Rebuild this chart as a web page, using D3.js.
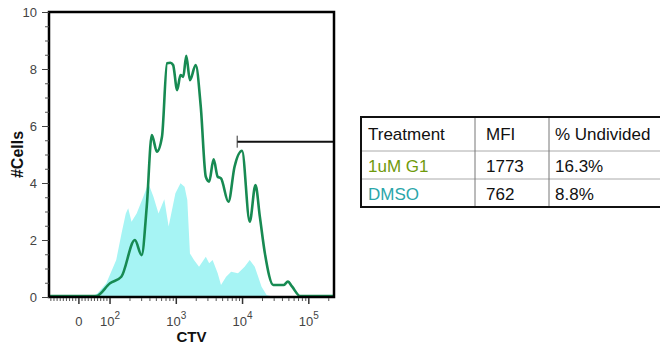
<!DOCTYPE html>
<html>
<head>
<meta charset="utf-8">
<script src="https://cdn.jsdelivr.net/npm/d3@7"></script>
<style>
  body { margin: 0; background: #fff; }
  svg { display: block; font-family: "Liberation Sans", Arial, sans-serif; }
</style>
</head>
<body>
<svg id="chart" width="660" height="345"></svg>
<script>
// --------------------------------
// data
// --------------------------------

// 1uM G1 (green line)
var g1Ctv   = [-96, 55, 100, 148, 237, 300, 358, 427, 510, 608, 725, 813, 895, 1030, 1157, 1273, 1413, 1607, 1963, 2340,
               2790, 3135, 3656, 4215, 4730, 6120, 7570, 9820, 12830, 15670, 18240, 21740, 29200, 41560, 48330, 55700, 74600, 240000];
var g1Cells = [0.03, 0.03, 0.48, 0.71, 2.0, 1.47, 3.17, 5.68, 5.1, 5.62, 8.2, 8.22, 8.14, 7.26, 7.79, 7.72, 8.46, 7.61, 8.14, 6.68,
               4.22, 4.05, 4.83, 4.22, 4.16, 3.34, 4.57, 5.13, 2.64, 3.93, 2.82, 1.53, 0.42, 0.42, 0.54, 0.37, 0.03, 0.03];

// DMSO (cyan filled)
var dmsoCtv   = [-96, 40, 60, 88, 124, 149, 173, 188, 211, 252, 318, 379, 452, 539, 659, 766, 970, 1157, 1333, 1466,
                 1607, 1849, 2205, 2790, 3135, 3533, 4215, 4730, 5650, 6730, 8530, 10750, 12830, 15280, 17220, 19360, 23070, 30000, 240000];
var dmsoCells = [0, 0, 0.13, 0.48, 1.30, 2.23, 2.93, 3.11, 2.64, 2.93, 3.52, 3.99, 3.52, 2.93, 3.43, 2.47, 3.64, 3.99, 3.87, 3.40,
                 1.53, 1.30, 1.06, 1.41, 1.18, 1.30, 0.83, 0.42, 0.71, 0.89, 0.83, 1.06, 1.30, 1.06, 0.71, 0.36, 0.07, 0, 0];

// gate "% undivided"
var gateRange = [8300, 240000];
var gateLevel = 5.45;

// axes
var xMin = -96, xMax = 240000;
var xMajor = [0, 100, 1000, 10000, 100000];
var yMajor = [0, 2, 4, 6, 8, 10];
var yMinor = [0.5, 1, 1.5, 2.5, 3, 3.5, 4.5, 5, 5.5, 6.5, 7, 7.5, 8.5, 9, 9.5];

// table
var tableHeader = ["Treatment", "MFI", "% Undivided"];
var treatments  = ["1uM G1", "DMSO"];
var mfi         = [1773, 762];
var undivided   = [16.3, 8.8];
var rowColors   = ["#6f9a0c", "#2aa6aa"];

// --------------------------------
// scales
// --------------------------------

var svg = d3.select("#chart");
var pLeft = 49, pRight = 334, pTop = 12, pBottom = 297;

// biexponential-like display: linear below 100, log above
var nLinSlope = 0.0047;
function biex(v){ return v >= 100 ? Math.log10(v) : 2 - (100 - v) * nLinSlope; }

var x = d3.scaleLinear().domain([biex(xMin), biex(xMax)]).range([pLeft, pRight]);
var y = d3.scaleLinear().domain([0, 10]).range([pBottom, pTop]);
var xs = function(v){ return x(biex(v)); };

svg.append("clipPath").attr("id", "plotClip")
  .append("rect").attr("x", pLeft).attr("y", pTop).attr("width", pRight - pLeft).attr("height", pBottom - pTop + 1);

var plot = svg.append("g").attr("clip-path", "url(#plotClip)");

// --------------------------------
// histograms
// --------------------------------

var dmso = dmsoCtv.map(function(v, i){ return [v, dmsoCells[i]]; });
var g1 = g1Ctv.map(function(v, i){ return [v, g1Cells[i]]; });

plot.append("path")
  .attr("d", d3.area().x(function(d){ return xs(d[0]); }).y0(y(0)).y1(function(d){ return y(d[1]); })(dmso))
  .attr("fill", "#a6f4f4");

plot.append("path")
  .attr("d", d3.line().curve(d3.curveMonotoneX).x(function(d){ return xs(d[0]); }).y(function(d){ return y(d[1]); })(g1))
  .attr("fill", "none")
  .attr("stroke", "#178a52")
  .attr("stroke-width", 2.6)
  .attr("stroke-linejoin", "round");

// gate
var gy = y(gateLevel);
svg.append("line")
  .attr("x1", xs(gateRange[0])).attr("x2", xs(gateRange[1]))
  .attr("y1", gy).attr("y2", gy)
  .attr("stroke", "#111").attr("stroke-width", 2);
gateRange.forEach(function(v){
  svg.append("line")
    .attr("x1", xs(v)).attr("x2", xs(v))
    .attr("y1", gy - 6).attr("y2", gy + 6)
    .attr("stroke", "#333").attr("stroke-width", 1);
});

// frame
svg.append("rect")
  .attr("x", pLeft).attr("y", pTop).attr("width", pRight - pLeft).attr("height", pBottom - pTop)
  .attr("fill", "none").attr("stroke", "#000").attr("stroke-width", 2.5);

// --------------------------------
// y axis
// --------------------------------

var yAxis = svg.append("g").attr("transform", "translate(" + pLeft + ",0)")
  .call(d3.axisLeft(y).tickValues(yMajor).tickSize(7).tickPadding(5).tickFormat(d3.format("d")));
yAxis.select(".domain").remove();
yAxis.selectAll("text").attr("font-size", 13).attr("fill", "#444").attr("font-family", "Liberation Sans, Arial, sans-serif");
yAxis.selectAll("line").attr("stroke", "#444");

var yAxisMinor = svg.append("g").attr("transform", "translate(" + pLeft + ",0)")
  .call(d3.axisLeft(y).tickValues(yMinor).tickSize(4).tickFormat(""));
yAxisMinor.select(".domain").remove();
yAxisMinor.selectAll("line").attr("stroke", "#555");

// --------------------------------
// x axis (drawn by hand, biex scale)
// --------------------------------

var xMinor = [];
for (var k = 1; k <= 9; k++){ xMinor.push(-10 * k); xMinor.push(10 * k); }
for (var d = 2; d <= 5; d++){
  for (var m = 2; m <= 9; m++){
    if (m * Math.pow(10, d) <= xMax) xMinor.push(m * Math.pow(10, d));
  }
}
xMinor = xMinor.filter(function(v){ return v >= xMin; });

var xAxis = svg.append("g");
xAxis.selectAll("line.minor").data(xMinor).enter().append("line")
  .attr("x1", xs).attr("x2", xs)
  .attr("y1", pBottom + 1).attr("y2", pBottom + 4)
  .attr("stroke", "#555").attr("stroke-width", 1);
xAxis.selectAll("line.major").data(xMajor).enter().append("line")
  .attr("x1", xs).attr("x2", xs)
  .attr("y1", pBottom + 1).attr("y2", pBottom + 7)
  .attr("stroke", "#333").attr("stroke-width", 1.5);

var xLabels = xAxis.selectAll("text").data(xMajor).enter().append("text")
  .attr("x", xs).attr("y", pBottom + 29)
  .attr("text-anchor", "middle")
  .attr("font-size", 13).attr("fill", "#444");
xLabels.each(function(v){
  var t = d3.select(this);
  if (v === 0){ t.text("0"); return; }
  t.append("tspan").text("10");
  t.append("tspan").attr("dy", -7).attr("font-size", 10).text(Math.round(Math.log10(v)));
});

// axis titles
svg.append("text")
  .attr("transform", "translate(23," + ((pTop + pBottom) / 2) + ") rotate(-90)")
  .attr("text-anchor", "middle")
  .attr("font-size", 16).attr("font-weight", "bold").attr("fill", "#111")
  .text("#Cells");

svg.append("text")
  .attr("x", (pLeft + pRight) / 2).attr("y", 342)
  .attr("text-anchor", "middle")
  .attr("font-size", 15).attr("font-weight", "bold").attr("fill", "#111")
  .text("CTV");

// --------------------------------
// table
// --------------------------------

var tLeft = 361, tRight = 664;
var colX = [361, 475, 549];
var rowY = [117, 151, 179, 207];
var table = svg.append("g");

// inner lines
table.selectAll("line.row").data(rowY.slice(1, -1)).enter().append("line")
  .attr("x1", tLeft).attr("x2", tRight).attr("y1", function(d){ return d; }).attr("y2", function(d){ return d; })
  .attr("stroke", "#aaa").attr("stroke-width", 1);
table.selectAll("line.col").data(colX.slice(1)).enter().append("line")
  .attr("x1", function(d){ return d; }).attr("x2", function(d){ return d; })
  .attr("y1", rowY[0]).attr("y2", rowY[rowY.length - 1])
  .attr("stroke", "#777").attr("stroke-width", 1);

// outer border
table.append("rect")
  .attr("x", tLeft).attr("y", rowY[0]).attr("width", tRight - tLeft).attr("height", rowY[rowY.length - 1] - rowY[0])
  .attr("fill", "none").attr("stroke", "#111").attr("stroke-width", 2);

var pad = [7, 11, 6];
table.selectAll("text.head").data(tableHeader).enter().append("text")
  .attr("x", function(d, i){ return colX[i] + pad[i]; })
  .attr("y", 140)
  .attr("font-size", 17).attr("fill", "#111")
  .text(function(d){ return d; });

var rowBase = [172, 200];
treatments.forEach(function(name, i){
  var cells = [name, String(mfi[i]), undivided[i].toFixed(1) + "%"];
  table.selectAll("text.r" + i).data(cells).enter().append("text")
    .attr("x", function(d, j){ return colX[j] + pad[j]; })
    .attr("y", rowBase[i])
    .attr("font-size", 17)
    .attr("fill", function(d, j){ return j === 0 ? rowColors[i] : "#111"; })
    .text(function(d){ return d; });
});
</script>
</body>
</html>
